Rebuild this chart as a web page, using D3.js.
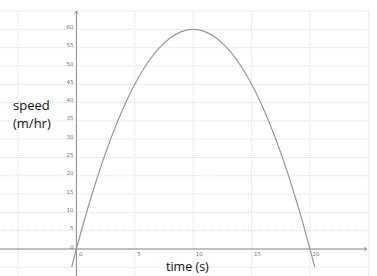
<!DOCTYPE html>
<html><head><meta charset="utf-8">
<script src="https://cdn.jsdelivr.net/npm/d3@7"></script>
<style>body{margin:0;background:#fff}svg{display:block}</style>
</head><body>
<svg id="c" width="377" height="276"></svg>
<script>
const xTicks = [0, 5, 10, 15, 20];
const yTicks = [0, 5, 10, 15, 20, 25, 30, 35, 40, 45, 50, 55, 60];
const xGrid = [-5, 0, 5, 10, 15, 20, 25];
const yGrid = [-5, 0, 5, 10, 15, 20, 25, 30, 35, 40, 45, 50, 55, 60, 65];
// speed curve samples: v = 60 - 0.6 (t-10)^2
const curveT = [-0.4, 0, 1, 2, 3, 4, 5, 6, 7, 8, 9, 10, 11, 12, 13, 14, 15, 16, 17, 18, 19, 20, 20.4];
const curveV = [-4.9, 0, 11.4, 21.6, 30.6, 38.4, 45, 50.4, 54.6, 57.6, 59.4, 60, 59.4, 57.6, 54.6, 50.4, 45, 38.4, 30.6, 21.6, 11.4, 0, -4.9];

const svg = d3.select("#c");
const x = d3.scaleLinear().domain([0, 20]).range([76.4, 310]);
const y = d3.scaleLinear().domain([0, 60]).range([249, 29.4]);
const xMin = 0, xMax = 367, yTop = 11, yBot = 276;

const g = svg.append("g");
g.selectAll(".vg").data(xGrid).enter().append("line")
  .attr("x1", d => x(d)).attr("x2", d => x(d)).attr("y1", yTop).attr("y2", yBot)
  .attr("stroke", "#dcdcdc").attr("stroke-width", 1).attr("stroke-dasharray", "1,1");
g.selectAll(".hg").data(yGrid).enter().append("line")
  .attr("x1", xMin).attr("x2", xMax).attr("y1", d => y(d)).attr("y2", d => y(d))
  .attr("stroke", "#dcdcdc").attr("stroke-width", 1).attr("stroke-dasharray", "1,1");

// axes
const ax = "#8a8a8a";
g.append("line").attr("x1", xMin).attr("x2", xMax).attr("y1", y(0)).attr("y2", y(0)).attr("stroke", ax);
g.append("line").attr("x1", x(0)).attr("x2", x(0)).attr("y1", yTop).attr("y2", yBot).attr("stroke", ax);
g.append("path").attr("d", `M${xMax-3},${y(0)-2}L${xMax},${y(0)}L${xMax-3},${y(0)+2}`).attr("fill", "none").attr("stroke", ax).attr("stroke-width", 0.8);
g.append("path").attr("d", `M${x(0)-2},${yTop+3}L${x(0)},${yTop}L${x(0)+2},${yTop+3}`).attr("fill", "none").attr("stroke", ax).attr("stroke-width", 0.8);

// tick labels
g.selectAll(".xl").data(xTicks).enter().append("text")
  .attr("x", d => x(d) + 2.5).attr("y", y(0) + 7)
  .attr("font-family", "DejaVu Sans, sans-serif").attr("font-size", 5.5).attr("fill", "#777")
  .text(d => d);
g.selectAll(".yl").data(yTicks).enter().append("text")
  .attr("x", x(0) - 3).attr("y", d => y(d) - 0.5).attr("text-anchor", "end")
  .attr("font-family", "DejaVu Sans, sans-serif").attr("font-size", 5.5).attr("fill", "#777")
  .text(d => d);

// curve
const line = d3.line().x((d, i) => x(curveT[i])).y((d, i) => y(curveV[i])).curve(d3.curveCatmullRom);
g.append("path").datum(curveV).attr("d", line).attr("fill", "none").attr("stroke", "#999").attr("stroke-width", 1.2);

// axis titles
const tf = "Open Sans, sans-serif";
g.append("text").attr("x", 13).attr("y", 110).attr("font-family", tf).attr("font-size", 13).attr("fill", "#111").text("speed");
g.append("text").attr("x", 13).attr("y", 128).attr("font-family", tf).attr("font-size", 13).attr("fill", "#111").text("(m/hr)");
g.append("text").attr("x", 166).attr("y", 271).attr("font-family", tf).attr("font-size", 12.5).attr("fill", "#111").text("time (s)");
</script>
</body></html>
